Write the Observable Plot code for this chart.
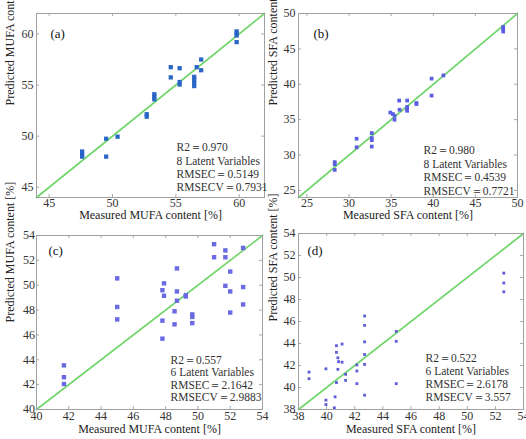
<!DOCTYPE html>
<html><head><meta charset="utf-8">
<script src="https://cdn.jsdelivr.net/npm/d3@7"></script>
<script src="https://cdn.jsdelivr.net/npm/@observablehq/plot@0.6"></script>
<style>
html,body{margin:0;padding:0;background:#fff;}
#wrap{position:relative;width:526px;height:439px;overflow:hidden;background:#fff;}
#wrap > svg{position:absolute;overflow:visible;}
</style></head><body><div id="wrap"></div>
<script>
// ---- data ----
const aMeasured  = [47.6,47.6,47.6, 49.5,49.5, 50.4, 52.7,52.7, 53.3,53.3,53.3, 54.6,54.6, 55.3,55.3,55.3, 56.45,56.45,56.45,56.45, 56.65, 57.0,57.0, 59.8,59.8,59.8,59.8];
const aPredicted = [48.5,48.2,48.0, 49.75,48.0, 49.95, 52.15,51.9, 54.1,53.85,53.6, 56.75,55.75, 56.65,55.3,55.05, 55.8,55.5,55.2,54.9, 56.75, 57.5,56.45, 60.25,60.05,59.85,59.2];

const bMeasured  = [28.3,28.3,28.3, 30.9,30.9, 32.7,32.7,32.7,32.7, 34.9,35.2,35.4,35.4, 35.95,36.0, 36.9,36.9,36.9,36.9, 38.0,38.0, 39.8,39.8, 41.2, 48.3,48.3,48.3];
const bPredicted = [29.0,28.7,27.9, 32.3,31.1, 33.1,32.4,32.1,31.2, 36.0,35.8,35.55,35.0, 37.7,36.4, 37.7,36.8,36.5,36.25, 37.35,37.2, 40.8,38.4, 41.25, 48.1,47.8,47.45];

const cMeasured  = [41.7,41.7,41.7, 45.0,45.0,45.0, 47.8,47.9,47.9,47.8,47.8, 48.7,48.7,48.7,48.55,48.55, 49.25,49.25, 49.65,49.65,49.65, 51.0,51.0, 51.7,51.7, 52.0, 51.7, 52.0,52.0, 52.8,52.8,52.8];
const cPredicted = [43.55,42.6,42.05, 50.55,48.25,47.25, 49.6,50.15,49.15,47.15,45.7, 51.35,49.5,48.75,47.9,46.85, 49.2,49.1, 47.65,47.45,46.95, 53.3,52.25, 52.8,52.25, 51.1, 49.95, 49.5,47.8, 53.0,49.85,48.45];

const dMeasured  = [38.75,38.75, 39.95,39.95,39.95, 40.7,40.7,40.8,40.85,41.1,40.8,41.1,40.7,40.6,40.55, 41.35,41.35, 42.15,42.15,42.15, 42.7,42.7,42.7,42.7,42.7,42.7, 44.95,44.95,44.95, 52.6,52.6,52.6];
const dPredicted = [41.4,40.8, 41.7,38.85,38.45, 43.8,43.2,42.7,42.35,42.3,41.65,43.95,40.45,39.15,38.15, 41.2,40.65, 42.05,41.5,40.35, 46.5,45.65,44.15,43.0,42.1,39.3, 45.1,44.2,40.35, 50.4,49.5,48.7];

const aDomain = [44, 62], bDomain = [24, 50], cDomain = [40, 54], dDomain = [38, 54];
const aTicks = [45, 50, 55, 60];
const bTicks = [25, 30, 35, 40, 45, 50];
const cTicks = [40, 42, 44, 46, 48, 50, 52, 54];
const dTicks = [38, 40, 42, 44, 46, 48, 50, 52, 54];

const tags = ["(a)", "(b)", "(c)", "(d)"];
const xLabels = ["Measured MUFA content [%]", "Measured SFA content [%]", "Measured MUFA content [%]", "Measured SFA content [%]"];
const yLabels = ["Predicted MUFA content [%]", "Predicted SFA content [%]", "Predicted MUFA content [%]", "Predicted SFA content [%]"];
const r2Values = ["0.970", "0.980", "0.557", "0.522"];
const latentVars = [8, 8, 6, 6];
const rmsec = ["0.5149", "0.4539", "2.1642", "2.6178"];
const rmsecv = ["0.7931", "0.7721", "2.9883", "3.557"];

// ---- layout ----
const green = "#72d66c";
const panels = [
  {meas: aMeasured, pred: aPredicted, domain: aDomain, ticks: aTicks, left: 0, top: 0, W: 268, H: 225, ml: 36, mr: 4, mt: 13, mb: 28,
   color: "#2a66c6", r: 2.4, xpad: 1, ypad: 3, xlabDy: 17.5, ylabDx: -26, tagDx: 14, tagDy: 20, stDx: 140, stDy: 153.5, stLh: 13.3},
  {meas: bMeasured, pred: bPredicted, domain: bDomain, ticks: bTicks, left: 263, top: 0, W: 263, H: 225, ml: 35, mr: 9, mt: 13, mb: 28,
   color: "#5b5ee0", r: 2.1, xpad: 1, ypad: 3, xlabDy: 17.5, ylabDx: -25, tagDx: 15, tagDy: 20, stDx: 125, stDy: 156.5, stLh: 13.5},
  {meas: cMeasured, pred: cPredicted, domain: cDomain, ticks: cTicks, left: 0, top: 220, W: 263, H: 219, ml: 36, mr: 1, mt: 15, mb: 30,
   color: "#6a6ae2", r: 2.5, xpad: 2, ypad: 1.5, xlabDy: 20, ylabDx: -26, tagDx: 12, tagDy: 15, stDx: 134, stDy: 143, stLh: 12.6},
  {meas: dMeasured, pred: dPredicted, domain: dDomain, ticks: dTicks, left: 263, top: 220, W: 263, H: 219, ml: 35, mr: 3, mt: 13, mb: 30,
   color: "#5e5ed8", r: 1.6, xpad: 2, ypad: 3, xlabDy: 20, ylabDx: -25, tagDx: 9, tagDy: 17, stDx: 127, stDy: 144, stLh: 12.8}
];

const wrap = document.getElementById("wrap");
const font = "'Liberation Serif', 'Times New Roman', serif";

panels.forEach((p, k) => {
  const fw = p.W - p.ml - p.mr, fh = p.H - p.mt - p.mb;
  const idx = d3.range(p.meas.length);
  const stats = `R2\uFF1D${r2Values[k]}\n${latentVars[k]} Latent Variables\nRMSEC\uFF1D${rmsec[k]}\nRMSECV\uFF1D${rmsecv[k]}`;
  const chart = Plot.plot({
    width: p.W, height: p.H,
    marginLeft: p.ml, marginRight: p.mr, marginTop: p.mt, marginBottom: p.mb,
    style: {fontFamily: font, fontSize: "12px", color: "#333", background: "none", overflow: "visible"},
    x: {domain: p.domain, ticks: p.ticks},
    y: {domain: p.domain, ticks: p.ticks},
    marks: [
      Plot.ruleX(p.ticks, {stroke: "#aaa", insetTop: fh - 3}),
      Plot.ruleX(p.ticks, {stroke: "#aaa", insetBottom: fh - 3}),
      Plot.ruleY(p.ticks, {stroke: "#aaa", insetRight: fw - 3}),
      Plot.ruleY(p.ticks, {stroke: "#aaa", insetLeft: fw - 3}),
      Plot.line(p.domain, {x: d => d, y: d => d, stroke: green, strokeWidth: 1.7}),
      Plot.dot(idx, {x: i => p.meas[i], y: i => p.pred[i], symbol: "square", r: p.r, fill: p.color, stroke: "none"}),
      Plot.frame({stroke: "#a0a0a0"}),
      Plot.axisX(p.ticks, {tickSize: 0, tickPadding: p.xpad, label: null, fontSize: 12, fill: "#333"}),
      Plot.axisY(p.ticks, {tickSize: 0, tickPadding: p.ypad, label: null, fontSize: 12, fill: "#333"}),
      Plot.text([xLabels[k]], {frameAnchor: "bottom", dy: p.xlabDy, lineAnchor: "middle", fontSize: 12, fill: "#222"}),
      Plot.text([yLabels[k]], {frameAnchor: "left", dx: p.ylabDx, rotate: -90, lineAnchor: "middle", fontSize: 12, fill: "#222"}),
      Plot.text([tags[k]], {frameAnchor: "top-left", dx: p.tagDx, dy: p.tagDy, textAnchor: "start", lineAnchor: "middle", fontSize: 13, fill: "#111"}),
      Plot.text([stats], {frameAnchor: "top-left", dx: p.stDx, dy: p.stDy, textAnchor: "start", lineAnchor: "middle", fontSize: 11.5, lineHeight: p.stLh / 11.5, fill: "#333"})
    ]
  });
  chart.style.left = p.left + "px";
  chart.style.top = p.top + "px";
  wrap.appendChild(chart);
});
</script>
</body></html>
